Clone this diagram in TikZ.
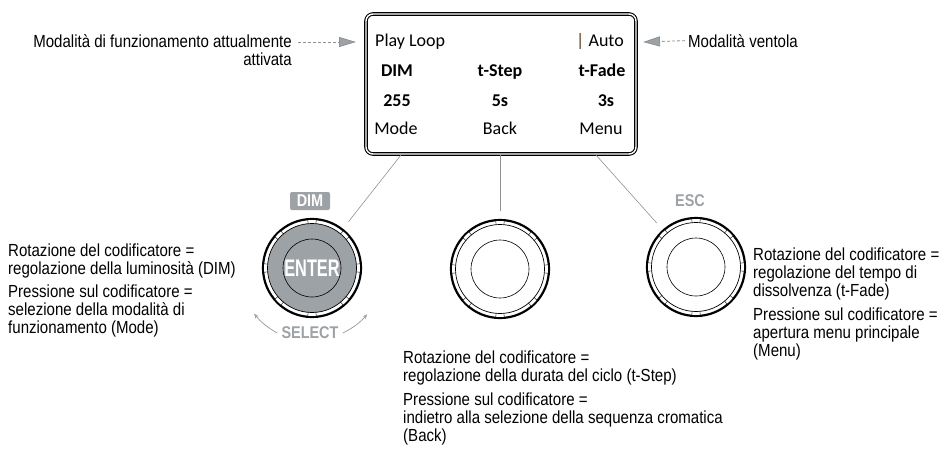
\documentclass[tikz,border=0pt]{standalone}
\usepackage{fontspec}
\setmainfont{Liberation Sans}[FakeStretch=0.86]
\newfontfamily\lcdfont{Carlito}
\newfontfamily\keyfont{Liberation Sans}[FakeStretch=0.85]
\newfontfamily\enterfont{Liberation Sans}[FakeStretch=0.68]
\usetikzlibrary{arrows.meta,positioning,calc}
\tikzset{>=Stealth}
\definecolor{keygray}{HTML}{9DA2A6}
\definecolor{pointgray}{HTML}{8E9194}
\definecolor{cursorbrown}{HTML}{5C3A1E}

\begin{document}
\begin{tikzpicture}[x=1pt, y=-1pt,
    desc/.style={align=left, anchor=north west, inner sep=0pt, font=\fontsize{17.5}{18}\selectfont},
    lcd/.style={inner sep=0pt, anchor=base, font=\lcdfont\fontsize{18}{20}\selectfont},
    lcdbold/.style={lcd, font=\lcdfont\bfseries\fontsize{18}{20}\selectfont},
    keylbl/.style={inner sep=0pt, text=keygray, font=\keyfont\bfseries\fontsize{17}{17}\selectfont},
    knob/.style={circle, draw, line width=2.2pt, fill=white, minimum size=98pt, inner sep=0pt},
    pointer/.style={draw=pointgray, dash pattern=on 3pt off 2pt, line width=0.8pt, -{Triangle[length=17pt,width=10pt,fill=keygray]}},
    lead/.style={draw=pointgray, line width=0.6pt},
    turn/.style={draw=keygray, line width=0.8pt, -{Stealth[length=5pt,width=4pt]}}
  ]
  \useasboundingbox (0,0) rectangle (948,451);

  % display
  \node[draw, double, double distance=1.4pt, line width=1.1pt, rounded corners=7pt,
        minimum width=270pt, minimum height=140pt] (disp) at (501,84) {};
  \node[lcd, anchor=base west] (playlbl) at (375,46) {Play Loop};
  \node[lcd, anchor=base east] (autolbl) at (624,46) {\textcolor{cursorbrown}{|} Auto};
  \node[lcdbold] (dimlbl) at (397,76) {DIM};
  \node[lcdbold] (steplbl) at (500,76) {t-Step};
  \node[lcdbold] (fadelbl) at (602,76) {t-Fade};
  \node[lcdbold] (dimval) at (397,106) {255};
  \node[lcdbold] (stepval) at (500,106) {5s};
  \node[lcdbold] (fadeval) at (606,106) {3s};
  \node[lcd] (modekey) at (396,134) {Mode};
  \node[lcd] (backkey) at (500,134) {Back};
  \node[lcd] (menukey) at (601,134) {Menu};

  % top notes
  \node[desc, anchor=north east, align=right] (modenote) at (292,34.5) {Modalità di funzionamento attualmente\\attivata};
  \node[desc, anchor=base west] (fannote) at (688,47) {Modalità ventola};
  \coordinate (modetip) at (356,42);
  \coordinate (fantip) at (643,42);
  \draw[pointer] ($(modenote.north east)+(6,7.5)$) -- (modetip);
  \draw[pointer] ([xshift=-3pt]fannote.west) -- (fantip);

  % encoders
  \node[knob] (knobL) at (312,268) {};
  \node[knob] (knobM) at (500,269) {};
  \node[knob] (knobR) at (696,267) {};
  \foreach \k/\f in {knobL/keygray, knobM/white, knobR/white}{
    \draw[line width=0.7pt, fill=\f] (\k.center) circle[radius=44.5];
    \draw[line width=0.6pt] (\k.center) circle[radius=29];
    \foreach \a in {0,45,...,315}{
      \draw[white, line width=2pt] ($(\k.center)+(\a-5:47)$) arc[start angle=\a-5, end angle=\a+5, radius=47];
      \draw[line width=0.4pt] ($(\k.center)+(\a-5:44.5)$) -- ($(\k.center)+(\a-5:48.5)$)
                              ($(\k.center)+(\a+5:44.5)$) -- ($(\k.center)+(\a+5:48.5)$);
    }
  }
  \node[text=white, font=\enterfont\bfseries\fontsize{24}{24}\selectfont] (enter) at (knobL.center) {ENTER};
  \node[fill=keygray, rounded corners=2pt, text=white, inner sep=0pt, minimum width=40pt, minimum height=18pt,
        font=\keyfont\bfseries\fontsize{17}{17}\selectfont] (dimkey) at (310,201) {DIM};
  \node[keylbl] (esckey) at (690,201) {ESC};
  \node[keylbl] (selkey) at (310,333) {SELECT};
  \draw[turn] ([xshift=-4pt]selkey.west) arc[start angle=118, end angle=141.7, radius=73.6];
  \draw[turn] ([xshift=4pt]selkey.east) arc[start angle=64.9, end angle=40, radius=71.8];

  % leads display -> encoders
  \coordinate (dispL) at (401,155);
  \coordinate (dispM) at (500,155);
  \coordinate (dispR) at (596,155);
  \draw[lead, shorten >=9pt] (dispL) -- (knobL);
  \draw[lead, shorten >=8pt] (dispM) -- (knobM);
  \draw[lead, shorten >=9pt] (dispR) -- (knobR);

  % descriptions
  \node[desc] (dimturn) at (8,243.5) {Rotazione del codificatore =\\regolazione della luminosità (DIM)};
  \node[desc] (dimpress) at (8,284.5) {Pressione sul codificatore =\\selezione della modalità di\\funzionamento (Mode)};
  \node[desc] (stepturn) at (403,350.5) {Rotazione del codificatore =\\regolazione della durata del ciclo (t-Step)};
  \node[desc] (steppress) at (403,392.5) {Pressione sul codificatore =\\indietro alla selezione della sequenza cromatica\\(Back)};
  \node[desc] (fadeturn) at (753,247.5) {Rotazione del codificatore =\\regolazione del tempo di\\dissolvenza (t-Fade)};
  \node[desc] (fadepress) at (753,307.5) {Pressione sul codificatore =\\apertura menu principale\\(Menu)};
\end{tikzpicture}
\end{document}
